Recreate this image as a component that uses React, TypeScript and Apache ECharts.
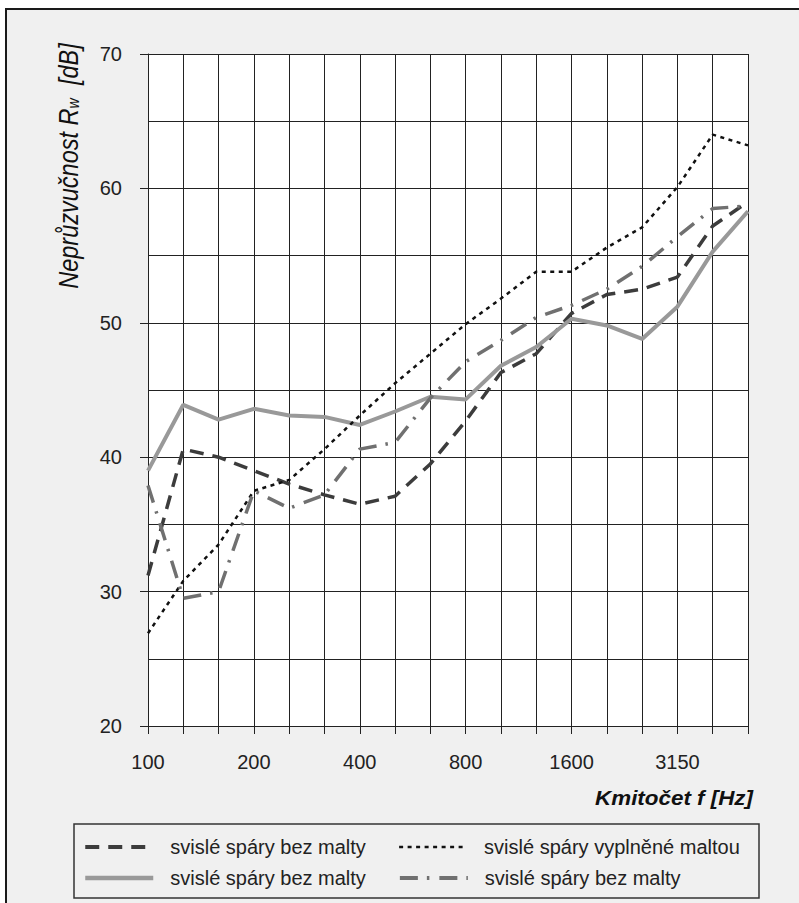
import React, { useEffect, useRef } from "react";
import * as echarts from "echarts";

const categories = ["100", "125", "160", "200", "250", "315", "400", "500", "630", "800", "1000", "1250", "1600", "2000", "2500", "3150", "4000", "5000"];

const dashedDark = [31.2, 40.6, 40.0, 39.0, 38.0, 37.2, 36.5, 37.1, 39.5, 42.7, 46.3, 47.7, 50.7, 52.1, 52.5, 53.4, 57.2, 59.0];
const solidGray = [39.0, 43.9, 42.8, 43.6, 43.1, 43.0, 42.4, 43.4, 44.5, 44.3, 46.8, 48.2, 50.3, 49.8, 48.8, 51.2, 55.3, 58.3];
const dotted = [26.9, 30.8, 33.5, 37.5, 38.3, 40.6, 43.1, 45.5, 47.7, 49.9, 51.8, 53.8, 53.8, 55.6, 57.1, 60.1, 64.0, 63.2];
const dashDot = [37.9, 29.5, 30.0, 37.5, 36.2, 37.2, 40.6, 41.1, 44.4, 47.1, 48.7, 50.4, 51.3, 52.5, 54.2, 56.4, 58.5, 58.7];

const seriesLabels: Record<string, string> = {
  s1: "svislé spáry bez malty",
  s2: "svislé spáry bez malty",
  s3: "svislé spáry vyplněné maltou",
  s4: "svislé spáry bez malty",
};

const yTitle = "Neprůzvučnost R";
const yTitleSub = "w";
const yTitleUnit = "  [dB]";
const xTitle = "Kmitočet f [Hz]";

const FONT = "'Liberation Sans', Arial, Helvetica, sans-serif";
const INK = "#222";

export default function App() {
  const ref = useRef<HTMLDivElement>(null);

  useEffect(() => {
    if (!ref.current) return;
    const chart = echarts.init(ref.current, null, { renderer: "svg" });
    const option: any = {
      animation: false,
      backgroundColor: "transparent",
      textStyle: { fontFamily: FONT },
      grid: {
        left: 148,
        right: 51,
        top: 54,
        bottom: 177,
        show: true,
        backgroundColor: "#fff",
        borderWidth: 0,
      },
      graphic: [
        {
          type: "rect",
          z: -100,
          shape: { x: 6, y: 9, width: 900, height: 1000 },
          style: { fill: "#f0f0f0", stroke: "#1a1a1a", lineWidth: 2 },
          silent: true,
        },
        {
          type: "rect",
          z: 50,
          shape: { x: 74, y: 824, width: 685, height: 74 },
          style: { fill: "none", stroke: "#333", lineWidth: 1.5 },
          silent: true,
        },
        {
          type: "text",
          z: 50,
          x: 67,
          y: 166,
          rotation: Math.PI / 2,
          scaleX: 0.84,
          style: {
            text: "{a|" + yTitle + "}{s|" + yTitleSub + "}{a|" + yTitleUnit + "}",
            align: "center",
            verticalAlign: "middle",
            rich: {
              a: { fontFamily: FONT, fontStyle: "italic", fontSize: 28, lineHeight: 30, fill: "#111", verticalAlign: "bottom" },
              s: { fontFamily: FONT, fontStyle: "italic", fontSize: 17, lineHeight: 20, fill: "#111", verticalAlign: "bottom" },
            },
          },
          silent: true,
        },
        {
          type: "text",
          z: 50,
          x: 753,
          y: 798,
          scaleX: 1.12,
          style: {
            text: xTitle,
            align: "right",
            verticalAlign: "middle",
            fontFamily: FONT,
            fontStyle: "italic",
            fontWeight: "bold",
            fontSize: 20,
            fill: "#111",
          },
          silent: true,
        },
      ],
      legend: {
        left: 83,
        top: 835,
        padding: 0,
        orient: "horizontal",
        data: [
          { name: "s1", lineStyle: { width: 4 } },
          { name: "s3", lineStyle: { width: 2.5 } },
          "\n",
          { name: "s2", lineStyle: { width: 4.5 } },
          { name: "s4", lineStyle: { width: 4 } },
        ],
        itemWidth: 68,
        itemHeight: 14,
        itemGap: 7,
        selectedMode: false,
        itemStyle: { opacity: 0 },
        formatter: (name: string) => seriesLabels[name],
        textStyle: {
          fontFamily: FONT,
          fontSize: 20,
          color: INK,
          lineHeight: 24,
          padding: [0, 25, 0, 12],
        },
      },
      xAxis: {
        type: "category",
        data: categories,
        boundaryGap: false,
        axisLine: { show: true, lineStyle: { color: INK, width: 1 } },
        axisTick: { show: true, interval: 0, length: 8, lineStyle: { color: INK, width: 1 } },
        axisLabel: { interval: 2, fontSize: 20, color: INK, fontFamily: FONT, margin: 26 },
        splitLine: { show: true, interval: 0, lineStyle: { color: INK, width: 1 } },
      },
      yAxis: {
        type: "value",
        min: 20,
        max: 70,
        interval: 10,
        axisLine: { show: true, lineStyle: { color: INK, width: 1 } },
        axisTick: { show: true, length: 8, lineStyle: { color: INK, width: 1 } },
        axisLabel: { fontSize: 20, color: INK, fontFamily: FONT, margin: 26 },
        splitLine: { show: true, lineStyle: { color: INK, width: 1 } },
        minorTick: { show: false, splitNumber: 2 },
        minorSplitLine: { show: true, lineStyle: { color: INK, width: 1 } },
      },
      series: [
        {
          name: "s1",
          type: "line",
          data: dashedDark,
          symbol: "none",
          lineStyle: { color: "#3c3c3c", width: 3.5, type: [14, 9] },
          itemStyle: { color: "#3c3c3c" },
        },
        {
          name: "s2",
          type: "line",
          data: solidGray,
          symbol: "none",
          lineStyle: { color: "#999", width: 4, type: "solid" },
          itemStyle: { color: "#999" },
        },
        {
          name: "s3",
          type: "line",
          data: dotted,
          symbol: "none",
          lineStyle: { color: "#111", width: 2.5, type: [4, 4.5] },
          itemStyle: { color: "#111" },
        },
        {
          name: "s4",
          type: "line",
          data: dashDot,
          symbol: "none",
          lineStyle: { color: "#707070", width: 3.5, type: [18, 9, 2.5, 10] },
          itemStyle: { color: "#707070" },
        },
      ],
    };
    chart.setOption(option);
    return () => chart.dispose();
  }, []);

  return (
    <div
      ref={ref}
      style={{ position: "absolute", left: 0, top: 0, width: 799, height: 903 }}
    />
  );
}
